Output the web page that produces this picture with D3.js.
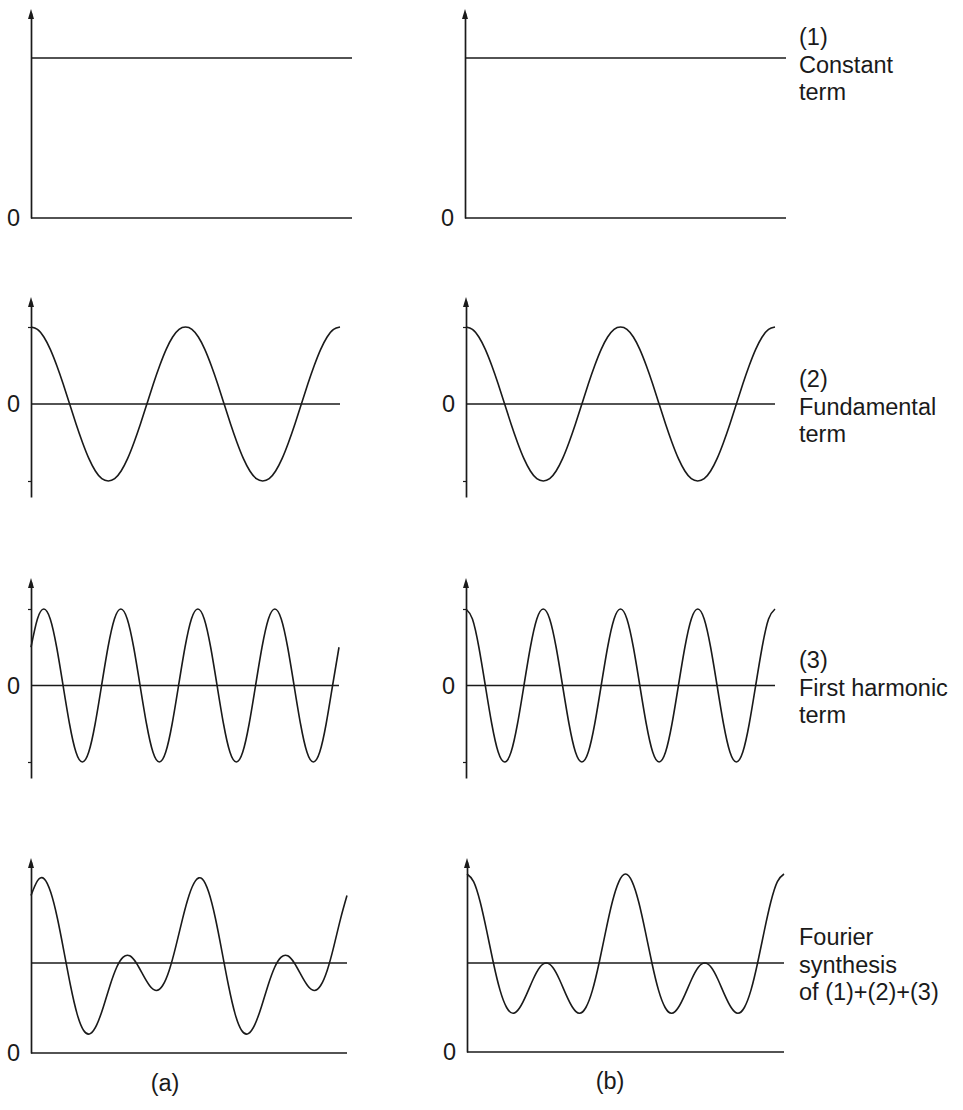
<!DOCTYPE html>
<html><head><meta charset="utf-8">
<script src="https://cdn.jsdelivr.net/npm/d3@7"></script>
<style>
body{margin:0;background:#fff}
svg{display:block}
text{font-family:"Liberation Sans",Arial,sans-serif;font-size:23.5px;fill:#1a1a1a}
</style>
</head><body>
<svg id="chart" width="963" height="1110"></svg>
<script>
// ---------- data ----------
// phase of the fundamental, in degrees (two full periods)
const phaseDeg = [0,15,30,45,60,75,90,105,120,135,150,165,180,195,210,225,240,255,270,285,300,315,330,345,360,
  375,390,405,420,435,450,465,480,495,510,525,540,555,570,585,600,615,630,645,660,675,690,705,720];

// (1) constant term, level at start and end
const constantPhase = [0, 720];
const constantTerm = [2, 2];

// (2) fundamental term (same in a and b)
const fundamental = [1,0.97,0.87,0.71,0.5,0.26,0,-0.26,-0.5,-0.71,-0.87,-0.97,-1,-0.97,-0.87,-0.71,-0.5,-0.26,0,0.26,0.5,0.71,0.87,0.97,1,
  0.97,0.87,0.71,0.5,0.26,0,-0.26,-0.5,-0.71,-0.87,-0.97,-1,-0.97,-0.87,-0.71,-0.5,-0.26,0,0.26,0.5,0.71,0.87,0.97,1];

// (3) first harmonic term, column (a): phase shifted
const harmonicA = [0.5,0.87,1,0.87,0.5,0,-0.5,-0.87,-1,-0.87,-0.5,0,
  0.5,0.87,1,0.87,0.5,0,-0.5,-0.87,-1,-0.87,-0.5,0,
  0.5,0.87,1,0.87,0.5,0,-0.5,-0.87,-1,-0.87,-0.5,0,
  0.5,0.87,1,0.87,0.5,0,-0.5,-0.87,-1,-0.87,-0.5,0,
  0.5];

// (3) first harmonic term, column (b): in phase
const harmonicB = [1,0.87,0.5,0,-0.5,-0.87,-1,-0.87,-0.5,0,0.5,0.87,
  1,0.87,0.5,0,-0.5,-0.87,-1,-0.87,-0.5,0,0.5,0.87,
  1,0.87,0.5,0,-0.5,-0.87,-1,-0.87,-0.5,0,0.5,0.87,
  1,0.87,0.5,0,-0.5,-0.87,-1,-0.87,-0.5,0,0.5,0.87,
  1];

// Fourier synthesis (1)+(2)+(3), column (a)
const synthesisA = [3.5,3.83,3.87,3.57,3,2.26,1.5,0.87,0.5,0.43,0.63,1.03,1.5,1.9,2.13,2.16,2,1.74,1.5,1.39,1.5,1.84,2.37,2.97,
  3.5,3.83,3.87,3.57,3,2.26,1.5,0.87,0.5,0.43,0.63,1.03,1.5,1.9,2.13,2.16,2,1.74,1.5,1.39,1.5,1.84,2.37,2.97,
  3.5];

// Fourier synthesis (1)+(2)+(3), column (b)
const synthesisB = [4,3.83,3.37,2.71,2,1.39,1,0.87,1,1.29,1.63,1.9,2,1.9,1.63,1.29,1,0.87,1,1.39,2,2.71,3.37,3.83,
  4,3.83,3.37,2.71,2,1.39,1,0.87,1,1.29,1.63,1.9,2,1.9,1.63,1.29,1,0.87,1,1.39,2,2.71,3.37,3.83,
  4];

const rowLabels = [
  ["(1)", "Constant", "term"],
  ["(2)", "Fundamental", "term"],
  ["(3)", "First harmonic", "term"],
  ["Fourier", "synthesis", "of (1)+(2)+(3)"]
];
const columnLabels = ["(a)", "(b)"];
const zeroLabel = "0";

// ---------- layout ----------
const ink = "#1a1a1a";
const svg = d3.select("#chart");

const panels = [
  // row 1
  {kind:"const", x0:31,  x1:352, top:9,   bottom:218, dom:[0,2],  rng:[218,58], ticks:[], vals:constantTerm, ph:constantPhase},
  {kind:"const", x0:465, x1:786, top:9,   bottom:218, dom:[0,2],  rng:[218,58], ticks:[], vals:constantTerm, ph:constantPhase},
  // row 2
  {kind:"wave", x0:31,  x1:340, top:297, bottom:497, dom:[-1,1], rng:[481,327], ticks:[-1,1], vals:fundamental, ph:phaseDeg},
  {kind:"wave", x0:466, x1:775, top:297, bottom:497, dom:[-1,1], rng:[481,327], ticks:[-1,1], vals:fundamental, ph:phaseDeg},
  // row 3
  {kind:"wave", x0:31,  x1:339, top:578, bottom:778, dom:[-1,1], rng:[762,609], ticks:[-1,1], vals:harmonicA, ph:phaseDeg},
  {kind:"wave", x0:466, x1:775, top:578, bottom:778, dom:[-1,1], rng:[762,609], ticks:[-1,1], vals:harmonicB, ph:phaseDeg},
  // row 4
  {kind:"sum", x0:31,  x1:347, top:858, bottom:1053, dom:[0,2], rng:[1053,963], ticks:[], vals:synthesisA, ph:phaseDeg, mean:2},
  {kind:"sum", x0:467, x1:784, top:858, bottom:1052, dom:[0,2], rng:[1052,963], ticks:[], vals:synthesisB, ph:phaseDeg, mean:2}
];

panels.forEach(p => {
  const g = svg.append("g");
  const x = d3.scaleLinear().domain([0, 720]).range([p.x0, p.x1]);
  const y = d3.scaleLinear().domain(p.dom).range(p.rng);
  const yAxisScale = d3.scaleLinear()
    .domain([y.invert(p.bottom), y.invert(p.top + 4)])
    .range([p.bottom, p.top + 4]);

  const ax = g.append("g").attr("transform", `translate(${p.x0},0)`)
    .call(d3.axisLeft(yAxisScale).tickValues(p.ticks).tickSize(3).tickSizeOuter(0).tickFormat(""));
  ax.select(".domain").attr("stroke", ink).attr("stroke-width", 1.7);
  ax.selectAll(".tick line").attr("stroke", ink).attr("stroke-width", 1.2);

  // arrowhead
  g.append("path")
    .attr("d", `M${p.x0},${p.top} L${p.x0-3},${p.top+10} L${p.x0+3},${p.top+10} Z`)
    .attr("fill", ink);

  // "0" label
  const zl = g.append("g").attr("transform", `translate(${p.x0},0)`)
    .call(d3.axisLeft(y).tickValues([0]).tickSize(0).tickPadding(11).tickFormat(() => zeroLabel));
  zl.select(".domain").remove();

  // zero line / baseline
  g.append("line")
    .attr("x1", x(0)).attr("x2", x(720))
    .attr("y1", y(0)).attr("y2", y(0))
    .attr("stroke", ink).attr("stroke-width", 1.6);

  // mean level line for the synthesis
  if (p.mean !== undefined) {
    g.append("line")
      .attr("x1", x(0)).attr("x2", x(720))
      .attr("y1", y(p.mean)).attr("y2", y(p.mean))
      .attr("stroke", ink).attr("stroke-width", 1.6);
  }

  // series
  const pts = p.vals.map((v, i) => [p.ph[i], v]);
  const line = d3.line()
    .x(d => x(d[0])).y(d => y(d[1]))
    .curve(p.kind === "const" ? d3.curveLinear : d3.curveNatural);
  g.append("path").attr("d", line(pts))
    .attr("fill", "none").attr("stroke", ink).attr("stroke-width", 1.6);
});

// row labels
const labelX = 799;
const labelFirstBaseline = [45, 387, 668, 945];
const lineStep = 27.5;
rowLabels.forEach((lines, r) => {
  lines.forEach((s, k) => {
    svg.append("text").attr("x", labelX).attr("y", labelFirstBaseline[r] + k * lineStep).text(s);
  });
});

// column labels
const colX = [165, 610];
const colY = [1091, 1089];
columnLabels.forEach((t, i) => {
  svg.append("text").attr("x", colX[i]).attr("y", colY[i]).attr("text-anchor", "middle").text(t);
});
</script>
</body></html>
